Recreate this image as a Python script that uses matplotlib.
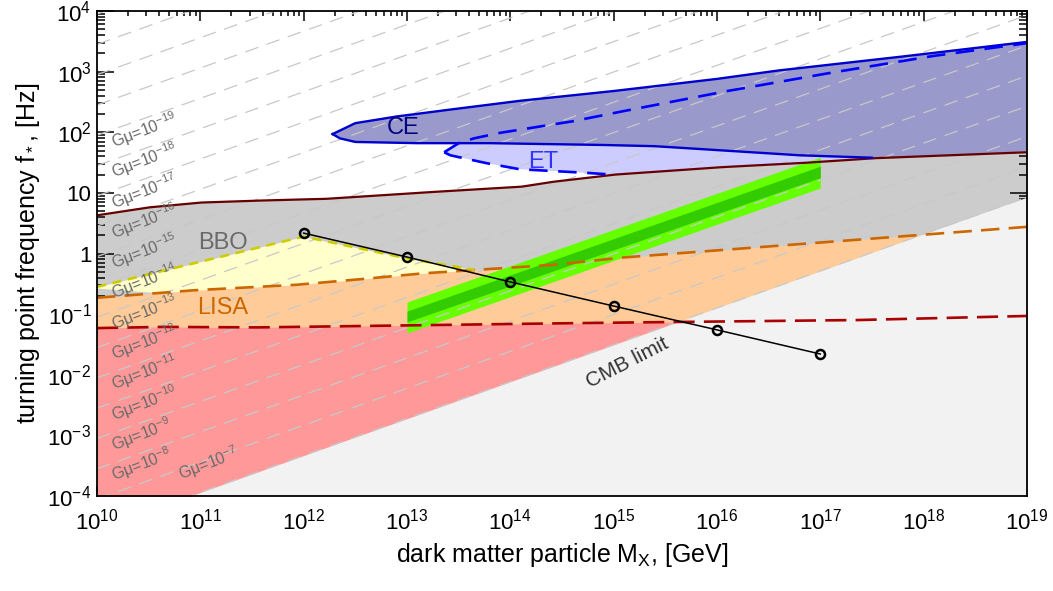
import numpy as np
import matplotlib.pyplot as plt
from matplotlib.ticker import FixedLocator, FuncFormatter, LogLocator, NullFormatter

plt.rcParams['font.family'] = ['Liberation Sans', 'DejaVu Sans']
plt.rcParams['mathtext.default'] = 'regular'

# all curves given as log10(M_X / GeV) vs log10(f / Hz)
bbo_lx = [10, 10.5, 11, 11.5, 12.2, 13.1, 14.1, 14.4, 15.0, 16.0, 16.8, 17.5, 19]
bbo_ly = [0.63, 0.76, 0.84, 0.87, 0.90, 1.00, 1.10, 1.18, 1.30, 1.42, 1.49, 1.57, 1.67]

lisa_lx = [10, 10.9, 11.9, 12.45, 13.13, 14.4, 15.06, 17.3, 19]
lisa_ly = [-0.73, -0.61, -0.52, -0.44, -0.33, -0.19, -0.07, 0.22, 0.44]

red_lx = [10, 10.6, 11.5, 13.2, 15.0, 17.3, 19]
red_ly = [-1.23, -1.21, -1.22, -1.18, -1.14, -1.10, -1.03]

yel_lx = [10, 12.0, 13.0, 13.65]
yel_ly = [-0.55, 0.28, -0.08, -0.27]
yel_bot_lx = [10, 10.7, 12.0, 13.65]
yel_bot_ly = [-0.57, -0.66, -0.60, -0.40]

ce_up_lx = [12.28, 12.5, 12.9, 13.4, 14.1, 15.0, 16.0, 16.6, 17.8, 19]
ce_up_ly = [1.97, 2.15, 2.26, 2.37, 2.52, 2.68, 2.88, 3.02, 3.25, 3.49]
ce_lo_lx = [12.28, 12.35, 12.5, 13.1, 13.8, 14.9, 15.4, 16.8, 17.5]
ce_lo_ly = [1.97, 1.90, 1.84, 1.82, 1.82, 1.79, 1.77, 1.62, 1.58]

et_up_lx = [13.36, 13.5, 13.65, 13.9, 14.6, 15.1, 16.1, 17.1, 18.1, 19]
et_up_ly = [1.67, 1.82, 1.90, 1.99, 2.18, 2.35, 2.68, 2.98, 3.26, 3.47]
et_lo_lx = [13.36, 13.42, 13.77, 14.09, 14.74, 15.0]
et_lo_ly = [1.67, 1.62, 1.49, 1.39, 1.33, 1.30]

green_lx = [13, 17]
green_out_lo = [-1.31, 1.08]
green_out_hi = [-0.80, 1.59]
green_in_lo = [-1.13, 1.25]
green_in_hi = [-0.95, 1.44]

track_M = [1e12, 1e13, 1e14, 1e15, 1e16, 1e17]
track_f = [2.17, 0.875, 0.34, 0.136, 0.055, 0.022]

# G mu = const lines, value at M=1e10 and M=1e19; first one is the CMB limit
gmu_exp = [-7, -8, -9, -10, -11, -12, -13, -14, -15, -16, -17, -18, -19,
           -20, -21, -22, -23, -24]
gmu_left = [-4.55, -4.05, -3.55, -3.05, -2.55, -2.05, -1.55, -1.05, -0.55,
            -0.05, 0.45, 0.95, 1.45, 1.95, 2.45, 2.95, 3.45, 3.95]
gmu_right = [0.93, 1.43, 1.93, 2.43, 2.93, 3.43, 3.93, 4.43, 4.93,
             5.43, 5.93, 6.43, 6.93, 7.43, 7.93, 8.43, 8.93, 9.43]

xlog = np.linspace(10, 19, 901)
X = 10 ** xlog


def curve(lx, ly, grid):
    return 10 ** np.interp(grid, lx, ly)


fig = plt.figure(figsize=(10.53, 5.91), dpi=100)
ax = fig.add_axes([0.0921, 0.1607, 0.8832, 0.8207])
ax.set_xscale('log')
ax.set_yscale('log')
ax.set_xlim(1e10, 1e19)
ax.set_ylim(1e-4, 1e4)

# BBO region
ax.fill_between(X, 1e-5, curve(bbo_lx, bbo_ly, xlog), color='#cccccc', lw=0, zorder=1)

# yellow region
g = np.linspace(10, 13.65, 300)
ax.fill_between(10 ** g, curve(yel_bot_lx, yel_bot_ly, g), curve(yel_lx, yel_ly, g),
                color='#ffffcc', lw=0, zorder=2)

# LISA region
ax.fill_between(X, 1e-5, curve(lisa_lx, lisa_ly, xlog), color='#ffcc99', lw=0, zorder=3)
ax.fill_between(X, 1e-5, curve(red_lx, red_ly, xlog), color='#ff9999', lw=0, zorder=4)

# ET region
g = np.linspace(et_lo_lx[-1], 19, 200)
et_x = np.concatenate([et_up_lx, g[::-1], et_lo_lx[::-1]])
et_y = np.concatenate([et_up_ly, np.interp(g[::-1], bbo_lx, bbo_ly), et_lo_ly[::-1]])
ax.fill(10 ** et_x, 10 ** et_y, color='#ccccff', lw=0, zorder=2)

# CE region
g = np.linspace(ce_lo_lx[-1], 19, 100)
ce_x = np.concatenate([ce_up_lx, g[::-1], ce_lo_lx[::-1]])
ce_y = np.concatenate([ce_up_ly, np.interp(g[::-1], bbo_lx, bbo_ly), ce_lo_ly[::-1]])
ax.fill(10 ** ce_x, 10 ** ce_y, color='#9999cc', lw=0, zorder=2.5)

# CMB excluded region
cmb = 10 ** np.interp(xlog, [10, 19], [gmu_left[0], gmu_right[0]])
ax.fill_between(X, 1e-5, cmb, color='#f2f2f2', lw=0, zorder=5)

# green band
ax.fill_between(10 ** np.array(green_lx), 10 ** np.array(green_out_lo),
                10 ** np.array(green_out_hi), color='#66ff00', lw=0, zorder=6)
ax.fill_between(10 ** np.array(green_lx), 10 ** np.array(green_in_lo),
                10 ** np.array(green_in_hi), color='#33cc00', lw=0, zorder=6)

# G mu lines
for e, yl, yr in zip(gmu_exp, gmu_left, gmu_right):
    ax.plot([1e10, 1e19], [10 ** yl, 10 ** yr], color='#c8c8c8', lw=0.9,
            dashes=(11, 7), zorder=7)

# detector curves
ax.plot(X, curve(bbo_lx, bbo_ly, xlog), color='#660000', lw=1.6, zorder=8)
ax.plot(X, curve(lisa_lx, lisa_ly, xlog), color='#cc6600', lw=1.9, dashes=(7, 3.5), zorder=8)
ax.plot(X, curve(red_lx, red_ly, xlog), color='#aa0000', lw=1.9, dashes=(8, 3.5), zorder=8)
ax.plot(10 ** np.array(yel_lx), 10 ** np.array(yel_ly), color='#cccc00', lw=1.9,
        dashes=(3.5, 2.5), zorder=8)
ax.plot(10 ** np.array(ce_up_lx), 10 ** np.array(ce_up_ly), color='#0000cc', lw=1.7, zorder=9)
ax.plot(10 ** np.array(ce_lo_lx), 10 ** np.array(ce_lo_ly), color='#0000cc', lw=1.7, zorder=9)
ax.plot(10 ** np.array(et_up_lx), 10 ** np.array(et_up_ly), color='#0000ff', lw=1.9,
        dashes=(7, 4), zorder=9)
ax.plot(10 ** np.array(et_lo_lx), 10 ** np.array(et_lo_ly), color='#0000ff', lw=1.9,
        dashes=(7, 4), zorder=9)

ax.plot(track_M, track_f, color='black', lw=1.1, marker='o', ms=6.5, mfc='none',
        mew=1.8, zorder=10)

# labels
gray = '#6a6a6a'
for e, yl, yr in zip(gmu_exp, gmu_left, gmu_right):
    if e < -19:
        continue
    lx = 10.83 if e == -7 else 10.18
    ly = yl + (yr - yl) * (lx - 10) / 9 + 0.1
    if e == -7:
        ly += 0.12
    ax.text(10 ** lx, 10 ** ly, r'G$\mu$=10$^{%d}$' % e, color=gray, fontsize=11.5,
            rotation=21, rotation_mode='anchor', ha='left', va='bottom', zorder=11)

ax.text(9.1e12, 117, 'CE', color='#000080', fontsize=17, ha='center', va='center', zorder=11)
ax.text(2.1e14, 32, 'ET', color='#3333ff', fontsize=17, ha='center', va='center', zorder=11)
ax.text(1.66e11, 1.48, 'BBO', color=gray, fontsize=17, ha='center', va='center', zorder=11)
ax.text(1.66e11, 0.126, 'LISA', color='#cc6600', fontsize=17, ha='center', va='center', zorder=11)
ax.text(1.35e15, 0.016, 'CMB limit', color='#333333', fontsize=15, rotation=27,
        ha='center', va='center', zorder=11)

# axes styling
ax.xaxis.set_major_locator(FixedLocator([10.0 ** k for k in range(10, 20)]))
ax.xaxis.set_major_formatter(FuncFormatter(lambda v, p: r'10$^{%d}$' % round(np.log10(v))))


def yfmt(v, p):
    k = round(np.log10(v))
    if k == 0:
        return '1'
    if k == 1:
        return '10'
    return r'10$^{%d}$' % k


ax.yaxis.set_major_locator(FixedLocator([10.0 ** k for k in range(-4, 5)]))
ax.yaxis.set_major_formatter(FuncFormatter(yfmt))
for a in (ax.xaxis, ax.yaxis):
    a.set_minor_locator(LogLocator(base=10, subs=np.arange(2, 10), numticks=30))
    a.set_minor_formatter(NullFormatter())

ax.tick_params(which='both', direction='in', top=True, right=True, width=1.1,
               labelsize=16, colors='black')
ax.tick_params(axis='x', which='major', length=7, pad=9)
ax.tick_params(axis='x', which='minor', length=3.5)
ax.tick_params(axis='y', which='major', length=12, pad=4)
ax.tick_params(axis='y', which='minor', length=6)
for s in ax.spines.values():
    s.set_linewidth(1.3)
    s.set_zorder(12)

ax.set_xlabel(r'dark matter particle M$_X$, [GeV]', fontsize=18, labelpad=5)
ax.set_ylabel(r'turning point frequency f$_*$, [Hz]', fontsize=18, labelpad=4)

fig.savefig('out.png', dpi=100)
